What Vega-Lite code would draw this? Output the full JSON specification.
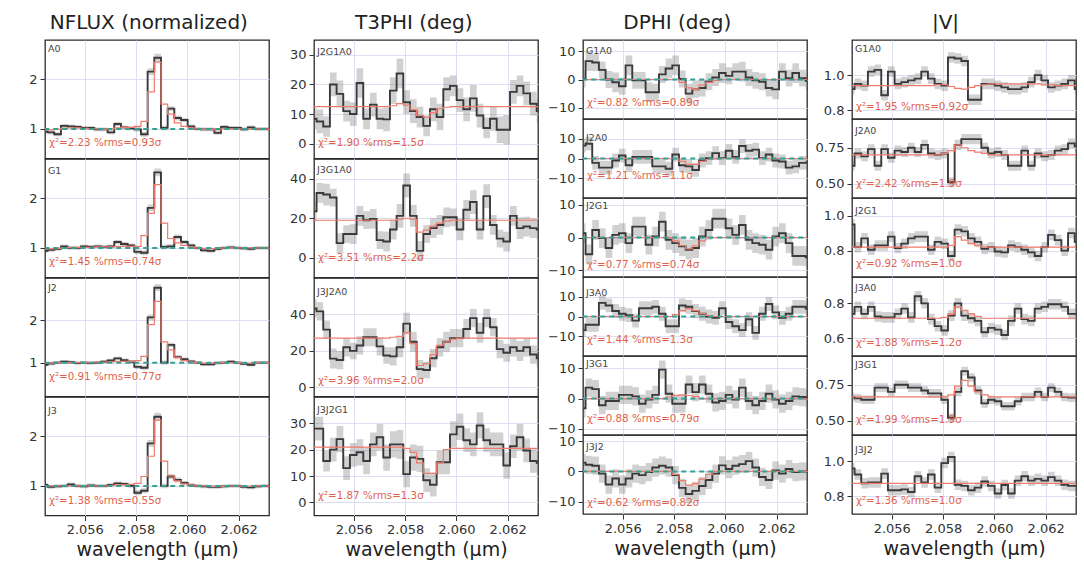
{
"padding":{"left":28,"top":13,"right":5,"bottom":5},
"background":"white",
"config":{
"font":"DejaVu Sans",
"view":{"stroke":"#2b2b2b","strokeWidth":1.3},
"axis":{"grid":true,"gridColor":"#d8dcee","gridWidth":0.9,"domain":false,"labelOverlap":false,"labelFont":"DejaVu Sans","labelFontSize":13,"labelColor":"#333","tickColor":"#333","tickSize":5,"labelPadding":3,"titleFont":"DejaVu Sans","titleFontSize":19,"titleFontWeight":"normal","titleColor":"#222"},
"axisY":{"labelOverlap":false,"tickCount":10},
"axisX":{"tickCount":5,"format":".3f","titlePadding":4},
"title":{"font":"DejaVu Sans","fontSize":20,"fontWeight":"normal","color":"#222","offset":6,"anchor":"middle"},
"line":{"interpolate":"step","color":"#3a3a3a","strokeWidth":1.9},
"text":{"font":"DejaVu Sans","fontSize":9.5}
},
"datasets":{
"N1":[{"l":2.05442,"v":0.95,"e":0.04,"m":0.98},{"l":2.05468,"v":0.93,"e":0.04,"m":0.98},{"l":2.05494,"v":0.89,"e":0.04,"m":0.99},{"l":2.0552,"v":1.06,"e":0.04,"m":1.01},{"l":2.05546,"v":1.05,"e":0.04,"m":1.02},{"l":2.05572,"v":1.04,"e":0.04,"m":1.02},{"l":2.05598,"v":1.02,"e":0.04,"m":1.01},{"l":2.05624,"v":1.02,"e":0.04,"m":1.0},{"l":2.0565,"v":0.99,"e":0.04,"m":1.0},{"l":2.05676,"v":0.99,"e":0.04,"m":0.99},{"l":2.05702,"v":0.93,"e":0.04,"m":1.0},{"l":2.05728,"v":1.1,"e":0.04,"m":1.02},{"l":2.05754,"v":1.03,"e":0.04,"m":1.03},{"l":2.0578,"v":1.01,"e":0.04,"m":1.03},{"l":2.05806,"v":0.99,"e":0.05,"m":1.05},{"l":2.05832,"v":0.89,"e":0.05,"m":1.15},{"l":2.05858,"v":2.16,"e":0.07,"m":1.75},{"l":2.05884,"v":2.44,"e":0.08,"m":2.35},{"l":2.0591,"v":1.02,"e":0.05,"m":1.5},{"l":2.05936,"v":1.41,"e":0.05,"m":1.3},{"l":2.05962,"v":1.22,"e":0.05,"m":1.12},{"l":2.05988,"v":1.18,"e":0.04,"m":1.05},{"l":2.06014,"v":1.05,"e":0.04,"m":1.02},{"l":2.0604,"v":1.0,"e":0.04,"m":1.0},{"l":2.06066,"v":0.99,"e":0.04,"m":0.99},{"l":2.06092,"v":0.99,"e":0.04,"m":0.99},{"l":2.06118,"v":0.92,"e":0.04,"m":0.98},{"l":2.06144,"v":1.04,"e":0.04,"m":1.0},{"l":2.0617,"v":1.02,"e":0.04,"m":1.0},{"l":2.06196,"v":1.02,"e":0.04,"m":1.0},{"l":2.06222,"v":0.99,"e":0.04,"m":1.0},{"l":2.06248,"v":1.03,"e":0.04,"m":1.0},{"l":2.06274,"v":1.0,"e":0.04,"m":1.0},{"l":2.063,"v":1.0,"e":0.04,"m":1.0},{"l":2.06326,"v":1.0,"e":0.04,"m":1.0}],
"N2":[{"l":2.05442,"v":0.94,"e":0.04,"m":0.98},{"l":2.05468,"v":0.96,"e":0.04,"m":0.98},{"l":2.05494,"v":0.98,"e":0.04,"m":0.99},{"l":2.0552,"v":1.03,"e":0.04,"m":1.0},{"l":2.05546,"v":1.0,"e":0.04,"m":1.01},{"l":2.05572,"v":1.0,"e":0.04,"m":1.01},{"l":2.05598,"v":1.03,"e":0.04,"m":1.01},{"l":2.05624,"v":1.02,"e":0.04,"m":1.01},{"l":2.0565,"v":1.03,"e":0.04,"m":1.02},{"l":2.05676,"v":1.02,"e":0.04,"m":1.02},{"l":2.05702,"v":1.03,"e":0.04,"m":1.02},{"l":2.05728,"v":1.12,"e":0.04,"m":1.03},{"l":2.05754,"v":1.08,"e":0.04,"m":1.03},{"l":2.0578,"v":1.05,"e":0.04,"m":1.03},{"l":2.05806,"v":0.92,"e":0.05,"m":1.03},{"l":2.05832,"v":0.9,"e":0.05,"m":1.25},{"l":2.05858,"v":1.81,"e":0.07,"m":1.7},{"l":2.05884,"v":2.53,"e":0.08,"m":2.28},{"l":2.0591,"v":1.02,"e":0.05,"m":1.5},{"l":2.05936,"v":1.03,"e":0.05,"m":1.19},{"l":2.05962,"v":1.22,"e":0.05,"m":1.1},{"l":2.05988,"v":1.12,"e":0.04,"m":1.05},{"l":2.06014,"v":1.05,"e":0.04,"m":1.02},{"l":2.0604,"v":1.0,"e":0.04,"m":1.0},{"l":2.06066,"v":0.95,"e":0.04,"m":0.99},{"l":2.06092,"v":0.94,"e":0.04,"m":0.98},{"l":2.06118,"v":0.98,"e":0.04,"m":0.99},{"l":2.06144,"v":1.0,"e":0.04,"m":1.0},{"l":2.0617,"v":1.01,"e":0.04,"m":1.0},{"l":2.06196,"v":1.0,"e":0.04,"m":1.0},{"l":2.06222,"v":0.99,"e":0.04,"m":1.0},{"l":2.06248,"v":0.98,"e":0.04,"m":1.0},{"l":2.06274,"v":1.0,"e":0.04,"m":1.0},{"l":2.063,"v":1.0,"e":0.04,"m":1.0},{"l":2.06326,"v":1.0,"e":0.04,"m":1.0}],
"N3":[{"l":2.05442,"v":0.95,"e":0.04,"m":0.98},{"l":2.05468,"v":0.98,"e":0.04,"m":0.99},{"l":2.05494,"v":1.0,"e":0.04,"m":1.0},{"l":2.0552,"v":1.02,"e":0.04,"m":1.0},{"l":2.05546,"v":1.01,"e":0.04,"m":1.0},{"l":2.05572,"v":0.99,"e":0.04,"m":1.0},{"l":2.05598,"v":1.0,"e":0.04,"m":1.0},{"l":2.05624,"v":0.99,"e":0.04,"m":1.0},{"l":2.0565,"v":1.0,"e":0.04,"m":1.01},{"l":2.05676,"v":1.02,"e":0.04,"m":1.01},{"l":2.05702,"v":1.05,"e":0.04,"m":1.02},{"l":2.05728,"v":1.1,"e":0.04,"m":1.03},{"l":2.05754,"v":1.06,"e":0.04,"m":1.03},{"l":2.0578,"v":1.02,"e":0.04,"m":1.03},{"l":2.05806,"v":0.9,"e":0.05,"m":1.05},{"l":2.05832,"v":0.88,"e":0.05,"m":1.15},{"l":2.05858,"v":2.07,"e":0.07,"m":1.9},{"l":2.05884,"v":2.77,"e":0.08,"m":2.45},{"l":2.0591,"v":1.0,"e":0.05,"m":1.49},{"l":2.05936,"v":1.42,"e":0.05,"m":1.3},{"l":2.05962,"v":1.13,"e":0.05,"m":1.12},{"l":2.05988,"v":1.08,"e":0.04,"m":1.05},{"l":2.06014,"v":1.03,"e":0.04,"m":1.02},{"l":2.0604,"v":1.0,"e":0.04,"m":1.0},{"l":2.06066,"v":0.96,"e":0.04,"m":0.99},{"l":2.06092,"v":0.96,"e":0.04,"m":0.99},{"l":2.06118,"v":0.99,"e":0.04,"m":0.99},{"l":2.06144,"v":1.0,"e":0.04,"m":1.0},{"l":2.0617,"v":1.02,"e":0.04,"m":1.0},{"l":2.06196,"v":1.0,"e":0.04,"m":1.0},{"l":2.06222,"v":0.97,"e":0.04,"m":0.99},{"l":2.06248,"v":0.95,"e":0.04,"m":0.99},{"l":2.06274,"v":1.0,"e":0.04,"m":1.0},{"l":2.063,"v":1.0,"e":0.04,"m":1.0},{"l":2.06326,"v":1.0,"e":0.04,"m":1.0}],
"N4":[{"l":2.05442,"v":1.02,"e":0.04,"m":1.0},{"l":2.05468,"v":0.98,"e":0.04,"m":1.0},{"l":2.05494,"v":0.99,"e":0.04,"m":1.0},{"l":2.0552,"v":1.0,"e":0.04,"m":1.0},{"l":2.05546,"v":1.03,"e":0.04,"m":1.0},{"l":2.05572,"v":1.0,"e":0.04,"m":1.0},{"l":2.05598,"v":0.99,"e":0.04,"m":1.0},{"l":2.05624,"v":1.01,"e":0.04,"m":1.0},{"l":2.0565,"v":1.0,"e":0.04,"m":1.0},{"l":2.05676,"v":1.0,"e":0.04,"m":1.0},{"l":2.05702,"v":1.02,"e":0.04,"m":1.01},{"l":2.05728,"v":1.05,"e":0.04,"m":1.02},{"l":2.05754,"v":1.04,"e":0.04,"m":1.02},{"l":2.0578,"v":1.0,"e":0.04,"m":1.03},{"l":2.05806,"v":0.86,"e":0.05,"m":1.05},{"l":2.05832,"v":0.9,"e":0.05,"m":1.19},{"l":2.05858,"v":1.86,"e":0.07,"m":1.6},{"l":2.05884,"v":2.4,"e":0.08,"m":2.33},{"l":2.0591,"v":1.0,"e":0.05,"m":1.5},{"l":2.05936,"v":1.19,"e":0.05,"m":1.2},{"l":2.05962,"v":1.12,"e":0.05,"m":1.1},{"l":2.05988,"v":1.06,"e":0.04,"m":1.04},{"l":2.06014,"v":1.02,"e":0.04,"m":1.02},{"l":2.0604,"v":1.0,"e":0.04,"m":1.0},{"l":2.06066,"v":0.99,"e":0.04,"m":1.0},{"l":2.06092,"v":0.98,"e":0.04,"m":0.99},{"l":2.06118,"v":0.98,"e":0.04,"m":0.99},{"l":2.06144,"v":0.99,"e":0.04,"m":0.99},{"l":2.0617,"v":1.0,"e":0.04,"m":1.0},{"l":2.06196,"v":1.0,"e":0.04,"m":1.0},{"l":2.06222,"v":0.98,"e":0.04,"m":0.99},{"l":2.06248,"v":0.97,"e":0.04,"m":0.99},{"l":2.06274,"v":0.99,"e":0.04,"m":1.0},{"l":2.063,"v":1.0,"e":0.04,"m":1.0},{"l":2.06326,"v":1.0,"e":0.04,"m":1.0}],
"T1":[{"l":2.05442,"v":8.4,"e":3.5,"m":12.5},{"l":2.05468,"v":7.5,"e":4,"m":12.5},{"l":2.05494,"v":5.8,"e":3.5,"m":12.5},{"l":2.0552,"v":20,"e":4,"m":12.5},{"l":2.05546,"v":16.8,"e":4.5,"m":12.5},{"l":2.05572,"v":11,"e":3.5,"m":12.5},{"l":2.05598,"v":10,"e":4,"m":12.5},{"l":2.05624,"v":20.5,"e":5,"m":12.5},{"l":2.0565,"v":8.4,"e":3.5,"m":12.5},{"l":2.05676,"v":13.2,"e":4,"m":12.5},{"l":2.05702,"v":8.4,"e":3.5,"m":12.5},{"l":2.05728,"v":8.2,"e":4,"m":12.5},{"l":2.05754,"v":17.9,"e":4.5,"m":12.8},{"l":2.0578,"v":23.7,"e":5,"m":13.5},{"l":2.05806,"v":14,"e":4,"m":13},{"l":2.05832,"v":11,"e":4,"m":11.5},{"l":2.05858,"v":9,"e":3.5,"m":9.5},{"l":2.05884,"v":6,"e":3.5,"m":9},{"l":2.0591,"v":11.6,"e":4,"m":10.5},{"l":2.05936,"v":9,"e":4.5,"m":11.8},{"l":2.05962,"v":18.4,"e":4,"m":12.3},{"l":2.05988,"v":19.5,"e":3.5,"m":12.5},{"l":2.06014,"v":14.7,"e":4,"m":12.5},{"l":2.0604,"v":11.6,"e":4,"m":12.5},{"l":2.06066,"v":15.3,"e":4.5,"m":12.5},{"l":2.06092,"v":9.5,"e":4,"m":12.5},{"l":2.06118,"v":5.3,"e":3.5,"m":12.5},{"l":2.06144,"v":8.4,"e":4,"m":12.5},{"l":2.0617,"v":4.7,"e":4.5,"m":12.5},{"l":2.06196,"v":4.7,"e":5,"m":12.5},{"l":2.06222,"v":17.5,"e":4,"m":12.5},{"l":2.06248,"v":19.5,"e":3.5,"m":12.5},{"l":2.06274,"v":17,"e":4,"m":12.5},{"l":2.063,"v":13.5,"e":4,"m":12.5},{"l":2.06326,"v":11,"e":4,"m":12.5}],
"T2":[{"l":2.05442,"v":23.5,"e":5,"m":19},{"l":2.05468,"v":32.8,"e":5,"m":19},{"l":2.05494,"v":32,"e":5.5,"m":19},{"l":2.0552,"v":30.5,"e":4.5,"m":19},{"l":2.05546,"v":7.4,"e":5,"m":19},{"l":2.05572,"v":12,"e":4.5,"m":19},{"l":2.05598,"v":12,"e":5,"m":19},{"l":2.05624,"v":21.2,"e":5,"m":19},{"l":2.0565,"v":19,"e":4.5,"m":19},{"l":2.05676,"v":19.7,"e":5,"m":19},{"l":2.05702,"v":8.9,"e":4.5,"m":19},{"l":2.05728,"v":8.2,"e":5,"m":19},{"l":2.05754,"v":14.3,"e":5,"m":19},{"l":2.0578,"v":21.2,"e":6,"m":19.5},{"l":2.05806,"v":36.6,"e":6,"m":20},{"l":2.05832,"v":21.2,"e":5.5,"m":19.5},{"l":2.05858,"v":3.5,"e":5,"m":13},{"l":2.05884,"v":12,"e":4.5,"m":14},{"l":2.0591,"v":15,"e":5,"m":16},{"l":2.05936,"v":16.6,"e":5,"m":17.5},{"l":2.05962,"v":20.5,"e":5,"m":18.5},{"l":2.05988,"v":20.5,"e":4.5,"m":19},{"l":2.06014,"v":14.3,"e":5.5,"m":19},{"l":2.0604,"v":24.3,"e":5,"m":19},{"l":2.06066,"v":28.2,"e":6,"m":19},{"l":2.06092,"v":14.3,"e":5,"m":19},{"l":2.06118,"v":31.2,"e":6,"m":19},{"l":2.06144,"v":16.6,"e":5,"m":19},{"l":2.0617,"v":9.7,"e":4.5,"m":19},{"l":2.06196,"v":8.2,"e":5,"m":19},{"l":2.06222,"v":21.2,"e":5,"m":19},{"l":2.06248,"v":15,"e":5.5,"m":19},{"l":2.06274,"v":15.8,"e":5,"m":19},{"l":2.063,"v":15,"e":5,"m":19},{"l":2.06326,"v":14.3,"e":5,"m":19}],
"T3":[{"l":2.05442,"v":43.3,"e":5,"m":27},{"l":2.05468,"v":41.7,"e":5,"m":27},{"l":2.05494,"v":31.7,"e":5,"m":27},{"l":2.0552,"v":15.8,"e":5.5,"m":27},{"l":2.05546,"v":15,"e":5,"m":27},{"l":2.05572,"v":22,"e":5,"m":27},{"l":2.05598,"v":20,"e":4.5,"m":27},{"l":2.05624,"v":23,"e":5,"m":27},{"l":2.0565,"v":27.5,"e":5,"m":27},{"l":2.05676,"v":27.5,"e":5,"m":27},{"l":2.05702,"v":22.5,"e":5,"m":27},{"l":2.05728,"v":17.5,"e":4.5,"m":27},{"l":2.05754,"v":17,"e":5,"m":27.5},{"l":2.0578,"v":22,"e":5.5,"m":28},{"l":2.05806,"v":35,"e":6,"m":30},{"l":2.05832,"v":25,"e":5.5,"m":24},{"l":2.05858,"v":10,"e":5,"m":12},{"l":2.05884,"v":9.5,"e":4.5,"m":13},{"l":2.0591,"v":16,"e":5,"m":18},{"l":2.05936,"v":22,"e":5,"m":23},{"l":2.05962,"v":25,"e":5.5,"m":25},{"l":2.05988,"v":27,"e":5,"m":26.5},{"l":2.06014,"v":27,"e":5,"m":27},{"l":2.0604,"v":32,"e":5.5,"m":27},{"l":2.06066,"v":38,"e":5,"m":27},{"l":2.06092,"v":30,"e":5.5,"m":27},{"l":2.06118,"v":38,"e":5,"m":27},{"l":2.06144,"v":33,"e":5,"m":27},{"l":2.0617,"v":21,"e":5,"m":27},{"l":2.06196,"v":19,"e":5,"m":27},{"l":2.06222,"v":22,"e":5,"m":27},{"l":2.06248,"v":20,"e":5.5,"m":27},{"l":2.06274,"v":22,"e":5,"m":27},{"l":2.063,"v":18,"e":5,"m":27},{"l":2.06326,"v":16,"e":5,"m":27}],
"T4":[{"l":2.05442,"v":28,"e":4.5,"m":21},{"l":2.05468,"v":28,"e":4.5,"m":21},{"l":2.05494,"v":15.7,"e":4,"m":21},{"l":2.0552,"v":20,"e":4.5,"m":21},{"l":2.05546,"v":24,"e":5,"m":21},{"l":2.05572,"v":13,"e":4.5,"m":21},{"l":2.05598,"v":18,"e":4.5,"m":21},{"l":2.05624,"v":19,"e":5,"m":21},{"l":2.0565,"v":15.7,"e":5,"m":21},{"l":2.05676,"v":22,"e":4.5,"m":21},{"l":2.05702,"v":24.7,"e":5,"m":21},{"l":2.05728,"v":17,"e":5,"m":21},{"l":2.05754,"v":22,"e":5,"m":21},{"l":2.0578,"v":22,"e":5.5,"m":21},{"l":2.05806,"v":10.7,"e":5,"m":20.5},{"l":2.05832,"v":17,"e":5,"m":19},{"l":2.05858,"v":16.5,"e":5,"m":15},{"l":2.05884,"v":8.4,"e":4.5,"m":11},{"l":2.0591,"v":6.7,"e":4.5,"m":11},{"l":2.05936,"v":15.2,"e":4.5,"m":15},{"l":2.05962,"v":15.2,"e":4.5,"m":20},{"l":2.05988,"v":25.8,"e":5,"m":20.5},{"l":2.06014,"v":28.7,"e":5,"m":20.5},{"l":2.0604,"v":23.6,"e":4.5,"m":20.5},{"l":2.06066,"v":22,"e":4.5,"m":20.5},{"l":2.06092,"v":29.2,"e":5,"m":20.5},{"l":2.06118,"v":23.6,"e":4.5,"m":20.5},{"l":2.06144,"v":22,"e":4.5,"m":20.5},{"l":2.0617,"v":22,"e":4.5,"m":20.5},{"l":2.06196,"v":14,"e":5,"m":20.5},{"l":2.06222,"v":21.3,"e":4.5,"m":20.5},{"l":2.06248,"v":24.7,"e":5,"m":20.5},{"l":2.06274,"v":19.7,"e":4.5,"m":20.5},{"l":2.063,"v":15.7,"e":4.5,"m":20.5},{"l":2.06326,"v":15,"e":4.5,"m":20.5}],
"D1":[{"l":2.05442,"v":0.2,"e":3,"m":0},{"l":2.05468,"v":6.5,"e":3.5,"m":0},{"l":2.05494,"v":6,"e":3,"m":0},{"l":2.0552,"v":3.4,"e":3,"m":0},{"l":2.05546,"v":0,"e":3,"m":0},{"l":2.05572,"v":-1,"e":3.5,"m":0},{"l":2.05598,"v":-2.4,"e":3,"m":0},{"l":2.05624,"v":5,"e":3.5,"m":0},{"l":2.0565,"v":-0.3,"e":3,"m":0},{"l":2.05676,"v":-0.3,"e":3,"m":0},{"l":2.05702,"v":-4.5,"e":3.5,"m":0},{"l":2.05728,"v":-4.5,"e":3,"m":0},{"l":2.05754,"v":1.8,"e":3,"m":0},{"l":2.0578,"v":3.9,"e":3.5,"m":0},{"l":2.05806,"v":5,"e":3.5,"m":0},{"l":2.05832,"v":0.2,"e":3,"m":-1},{"l":2.05858,"v":-5,"e":3.5,"m":-3},{"l":2.05884,"v":-3.5,"e":3,"m":-3.5},{"l":2.0591,"v":-3,"e":3,"m":-2},{"l":2.05936,"v":-0.8,"e":3,"m":-1},{"l":2.05962,"v":0.7,"e":3,"m":-0.3},{"l":2.05988,"v":2.3,"e":3.5,"m":0},{"l":2.06014,"v":1.3,"e":3,"m":0},{"l":2.0604,"v":2.8,"e":3,"m":0},{"l":2.06066,"v":2.8,"e":3.5,"m":0},{"l":2.06092,"v":0.7,"e":3,"m":0},{"l":2.06118,"v":-0.3,"e":3,"m":0},{"l":2.06144,"v":-0.8,"e":3,"m":0},{"l":2.0617,"v":-3,"e":3,"m":0},{"l":2.06196,"v":-3.5,"e":3.5,"m":0},{"l":2.06222,"v":2.8,"e":3,"m":0},{"l":2.06248,"v":0.5,"e":3,"m":0},{"l":2.06274,"v":2.3,"e":3.5,"m":0},{"l":2.063,"v":0.5,"e":3,"m":0},{"l":2.06326,"v":-0.5,"e":3,"m":0}],
"D2":[{"l":2.05442,"v":6.5,"e":3.5,"m":0},{"l":2.05468,"v":7.5,"e":3.5,"m":0},{"l":2.05494,"v":-2.2,"e":3.5,"m":0},{"l":2.0552,"v":-4.6,"e":3.5,"m":0},{"l":2.05546,"v":-4.6,"e":3.5,"m":0},{"l":2.05572,"v":-1,"e":3.5,"m":0},{"l":2.05598,"v":1.5,"e":3.5,"m":0},{"l":2.05624,"v":-3.4,"e":3.5,"m":0},{"l":2.0565,"v":0.8,"e":3.5,"m":0},{"l":2.05676,"v":0.8,"e":3.5,"m":0},{"l":2.05702,"v":0.8,"e":3.5,"m":0},{"l":2.05728,"v":-4,"e":3.5,"m":0},{"l":2.05754,"v":-4,"e":3.5,"m":0},{"l":2.0578,"v":-5.2,"e":3.5,"m":0},{"l":2.05806,"v":2,"e":3.5,"m":0},{"l":2.05832,"v":-3.4,"e":3.5,"m":-1.5},{"l":2.05858,"v":-4,"e":3.5,"m":-3},{"l":2.05884,"v":-5.8,"e":3.5,"m":-3},{"l":2.0591,"v":-1,"e":3.5,"m":-1.5},{"l":2.05936,"v":0.2,"e":3.5,"m":-0.5},{"l":2.05962,"v":2.7,"e":3.5,"m":0},{"l":2.05988,"v":0.2,"e":3.5,"m":0},{"l":2.06014,"v":3.9,"e":3.5,"m":0},{"l":2.0604,"v":0.8,"e":3.5,"m":0},{"l":2.06066,"v":6.3,"e":3.5,"m":0},{"l":2.06092,"v":3.9,"e":3.5,"m":0},{"l":2.06118,"v":4.5,"e":3.5,"m":0},{"l":2.06144,"v":0.2,"e":3.5,"m":0},{"l":2.0617,"v":2,"e":3.5,"m":0},{"l":2.06196,"v":-1,"e":3.5,"m":0},{"l":2.06222,"v":-1.5,"e":3.5,"m":0},{"l":2.06248,"v":-4.6,"e":3.5,"m":0},{"l":2.06274,"v":-4,"e":3.5,"m":0},{"l":2.063,"v":-2.2,"e":3.5,"m":0},{"l":2.06326,"v":-2,"e":3.5,"m":0}],
"D3":[{"l":2.05442,"v":1.3,"e":3,"m":0},{"l":2.05468,"v":-5.1,"e":3,"m":0},{"l":2.05494,"v":2.3,"e":3,"m":0},{"l":2.0552,"v":-0.2,"e":3,"m":0},{"l":2.05546,"v":-3.2,"e":3,"m":0},{"l":2.05572,"v":0.8,"e":3,"m":0},{"l":2.05598,"v":1.3,"e":3,"m":0},{"l":2.05624,"v":-1.7,"e":3,"m":0},{"l":2.0565,"v":3.3,"e":3,"m":0},{"l":2.05676,"v":3.3,"e":3,"m":0},{"l":2.05702,"v":-2.2,"e":3,"m":0},{"l":2.05728,"v":0.3,"e":3,"m":0},{"l":2.05754,"v":4.8,"e":3,"m":0},{"l":2.0578,"v":-0.7,"e":3,"m":0},{"l":2.05806,"v":-1.7,"e":3,"m":-1},{"l":2.05832,"v":-2.7,"e":3,"m":-2.5},{"l":2.05858,"v":-3.7,"e":3,"m":-3.5},{"l":2.05884,"v":-3.2,"e":3,"m":-2.5},{"l":2.0591,"v":0.3,"e":3,"m":-1},{"l":2.05936,"v":2.3,"e":3,"m":0},{"l":2.05962,"v":5.7,"e":3,"m":0},{"l":2.05988,"v":5.7,"e":3,"m":0},{"l":2.06014,"v":2.8,"e":3,"m":0},{"l":2.0604,"v":0.8,"e":3,"m":0},{"l":2.06066,"v":3.8,"e":3,"m":0},{"l":2.06092,"v":-0.7,"e":3,"m":0},{"l":2.06118,"v":-1.7,"e":3,"m":0},{"l":2.06144,"v":-2.2,"e":3,"m":0},{"l":2.0617,"v":-3.7,"e":3,"m":0},{"l":2.06196,"v":0.3,"e":3,"m":0},{"l":2.06222,"v":1.3,"e":3,"m":0},{"l":2.06248,"v":-1.7,"e":3,"m":0},{"l":2.06274,"v":-5.6,"e":3,"m":0},{"l":2.063,"v":-5.6,"e":3,"m":0},{"l":2.06326,"v":-6,"e":3,"m":0}],
"D4":[{"l":2.05442,"v":-6.9,"e":3.5,"m":0},{"l":2.05468,"v":-4.2,"e":3.5,"m":0},{"l":2.05494,"v":-4.2,"e":3.5,"m":0},{"l":2.0552,"v":6.9,"e":3.5,"m":0},{"l":2.05546,"v":5.6,"e":3.5,"m":0},{"l":2.05572,"v":2.8,"e":3.5,"m":0},{"l":2.05598,"v":1.4,"e":3.5,"m":0},{"l":2.05624,"v":0.7,"e":3.5,"m":0},{"l":2.0565,"v":-2.1,"e":3.5,"m":0},{"l":2.05676,"v":4.2,"e":3.5,"m":0},{"l":2.05702,"v":4.2,"e":3.5,"m":0},{"l":2.05728,"v":4.9,"e":3.5,"m":0},{"l":2.05754,"v":1.4,"e":3.5,"m":0},{"l":2.0578,"v":-4.9,"e":3.5,"m":0},{"l":2.05806,"v":-4.9,"e":3.5,"m":1},{"l":2.05832,"v":5.6,"e":3.5,"m":3},{"l":2.05858,"v":4.9,"e":3.5,"m":4},{"l":2.05884,"v":2.8,"e":3.5,"m":3},{"l":2.0591,"v":1.4,"e":3.5,"m":1.5},{"l":2.05936,"v":0,"e":3.5,"m":0.5},{"l":2.05962,"v":-0.7,"e":3.5,"m":0},{"l":2.05988,"v":4.2,"e":3.5,"m":0},{"l":2.06014,"v":-2.8,"e":3.5,"m":0},{"l":2.0604,"v":-4.9,"e":3.5,"m":0},{"l":2.06066,"v":-6.9,"e":3.5,"m":0},{"l":2.06092,"v":-1.4,"e":3.5,"m":0},{"l":2.06118,"v":-8.3,"e":3.5,"m":0},{"l":2.06144,"v":1.4,"e":3.5,"m":0},{"l":2.0617,"v":6.3,"e":3.5,"m":0},{"l":2.06196,"v":2.1,"e":3.5,"m":0},{"l":2.06222,"v":-0.7,"e":3.5,"m":0},{"l":2.06248,"v":1.4,"e":3.5,"m":0},{"l":2.06274,"v":4.9,"e":3.5,"m":0},{"l":2.063,"v":4.9,"e":3.5,"m":0},{"l":2.06326,"v":4,"e":3.5,"m":0}],
"D5":[{"l":2.05442,"v":-3.2,"e":3,"m":0},{"l":2.05468,"v":3.6,"e":3,"m":0},{"l":2.05494,"v":3.1,"e":3,"m":0},{"l":2.0552,"v":-2.2,"e":3,"m":0},{"l":2.05546,"v":-0.8,"e":3,"m":0},{"l":2.05572,"v":-0.8,"e":3,"m":0},{"l":2.05598,"v":1.2,"e":3,"m":0},{"l":2.05624,"v":1.2,"e":3,"m":0},{"l":2.0565,"v":0.7,"e":3,"m":0},{"l":2.05676,"v":-1.7,"e":3,"m":0},{"l":2.05702,"v":-0.3,"e":3,"m":0},{"l":2.05728,"v":1.2,"e":3,"m":0},{"l":2.05754,"v":9.5,"e":3,"m":0},{"l":2.0578,"v":1.6,"e":3,"m":0.5},{"l":2.05806,"v":-1.7,"e":3,"m":1},{"l":2.05832,"v":-1.7,"e":3,"m":1.2},{"l":2.05858,"v":4.6,"e":3,"m":1},{"l":2.05884,"v":2.1,"e":3,"m":0.6},{"l":2.0591,"v":4.6,"e":3,"m":0},{"l":2.05936,"v":1.6,"e":3,"m":0},{"l":2.05962,"v":-1.3,"e":3,"m":0},{"l":2.05988,"v":-0.8,"e":3,"m":0},{"l":2.06014,"v":1.2,"e":3,"m":0},{"l":2.0604,"v":-0.3,"e":3,"m":0},{"l":2.06066,"v":3.6,"e":3,"m":0},{"l":2.06092,"v":-0.8,"e":3,"m":0},{"l":2.06118,"v":-2.2,"e":3,"m":0},{"l":2.06144,"v":-0.8,"e":3,"m":0},{"l":2.0617,"v":1.6,"e":3,"m":0},{"l":2.06196,"v":-0.3,"e":3,"m":0},{"l":2.06222,"v":-1.7,"e":3,"m":0},{"l":2.06248,"v":-0.8,"e":3,"m":0},{"l":2.06274,"v":0.7,"e":3,"m":0},{"l":2.063,"v":0.5,"e":3,"m":0},{"l":2.06326,"v":0,"e":3,"m":0}],
"D6":[{"l":2.05442,"v":2.9,"e":3,"m":0},{"l":2.05468,"v":2.2,"e":3,"m":0},{"l":2.05494,"v":1.9,"e":3,"m":0},{"l":2.0552,"v":-0.7,"e":3,"m":0},{"l":2.05546,"v":-4.3,"e":3,"m":0},{"l":2.05572,"v":-2.3,"e":3,"m":0},{"l":2.05598,"v":-4.3,"e":3,"m":0},{"l":2.05624,"v":-2.3,"e":3,"m":0},{"l":2.0565,"v":-0.7,"e":3,"m":0},{"l":2.05676,"v":-1.2,"e":3,"m":0},{"l":2.05702,"v":-0.2,"e":3,"m":0},{"l":2.05728,"v":1.3,"e":3,"m":0},{"l":2.05754,"v":1.9,"e":3,"m":0},{"l":2.0578,"v":1.3,"e":3,"m":0},{"l":2.05806,"v":-1.2,"e":3,"m":-1},{"l":2.05832,"v":-5.4,"e":3,"m":-3},{"l":2.05858,"v":-7.4,"e":3,"m":-4.5},{"l":2.05884,"v":-6.4,"e":3,"m":-4},{"l":2.0591,"v":-4.8,"e":3,"m":-2.5},{"l":2.05936,"v":-2.8,"e":3,"m":-1},{"l":2.05962,"v":-0.7,"e":3,"m":0},{"l":2.05988,"v":2,"e":3,"m":0},{"l":2.06014,"v":0.8,"e":3,"m":0},{"l":2.0604,"v":1.9,"e":3,"m":0},{"l":2.06066,"v":2.4,"e":3,"m":0},{"l":2.06092,"v":3.4,"e":3,"m":0},{"l":2.06118,"v":1.3,"e":3,"m":0},{"l":2.06144,"v":-1.8,"e":3,"m":0},{"l":2.0617,"v":-2.8,"e":3,"m":0},{"l":2.06196,"v":0.3,"e":3,"m":0},{"l":2.06222,"v":-0.7,"e":3,"m":0},{"l":2.06248,"v":0.8,"e":3,"m":0},{"l":2.06274,"v":-0.2,"e":3,"m":0},{"l":2.063,"v":0,"e":3,"m":0},{"l":2.06326,"v":0,"e":3,"m":0}],
"V1":[{"l":2.05442,"v":0.92,"e":0.03,"m":0.94},{"l":2.05468,"v":0.95,"e":0.03,"m":0.94},{"l":2.05494,"v":0.94,"e":0.03,"m":0.94},{"l":2.0552,"v":1.02,"e":0.03,"m":0.94},{"l":2.05546,"v":1.03,"e":0.03,"m":0.94},{"l":2.05572,"v":0.885,"e":0.03,"m":0.94},{"l":2.05598,"v":1.02,"e":0.03,"m":0.94},{"l":2.05624,"v":0.95,"e":0.03,"m":0.94},{"l":2.0565,"v":0.96,"e":0.03,"m":0.94},{"l":2.05676,"v":0.97,"e":0.03,"m":0.94},{"l":2.05702,"v":0.98,"e":0.03,"m":0.94},{"l":2.05728,"v":1.02,"e":0.03,"m":0.94},{"l":2.05754,"v":0.98,"e":0.03,"m":0.94},{"l":2.0578,"v":0.95,"e":0.03,"m":0.945},{"l":2.05806,"v":0.94,"e":0.03,"m":0.945},{"l":2.05832,"v":1.1,"e":0.03,"m":0.935},{"l":2.05858,"v":1.095,"e":0.03,"m":0.925},{"l":2.05884,"v":1.08,"e":0.03,"m":0.92},{"l":2.0591,"v":0.86,"e":0.03,"m":0.93},{"l":2.05936,"v":0.86,"e":0.03,"m":0.94},{"l":2.05962,"v":0.95,"e":0.03,"m":0.945},{"l":2.05988,"v":0.95,"e":0.03,"m":0.95},{"l":2.06014,"v":0.94,"e":0.03,"m":0.95},{"l":2.0604,"v":0.93,"e":0.03,"m":0.95},{"l":2.06066,"v":0.92,"e":0.03,"m":0.95},{"l":2.06092,"v":0.92,"e":0.03,"m":0.95},{"l":2.06118,"v":0.93,"e":0.03,"m":0.95},{"l":2.06144,"v":0.96,"e":0.03,"m":0.95},{"l":2.0617,"v":1.0,"e":0.03,"m":0.95},{"l":2.06196,"v":0.97,"e":0.03,"m":0.945},{"l":2.06222,"v":0.93,"e":0.03,"m":0.945},{"l":2.06248,"v":0.94,"e":0.03,"m":0.94},{"l":2.06274,"v":0.95,"e":0.03,"m":0.94},{"l":2.063,"v":0.97,"e":0.03,"m":0.94},{"l":2.06326,"v":0.92,"e":0.03,"m":0.94}],
"V2":[{"l":2.05442,"v":0.625,"e":0.035,"m":0.7},{"l":2.05468,"v":0.71,"e":0.035,"m":0.7},{"l":2.05494,"v":0.69,"e":0.035,"m":0.7},{"l":2.0552,"v":0.74,"e":0.035,"m":0.7},{"l":2.05546,"v":0.625,"e":0.035,"m":0.7},{"l":2.05572,"v":0.74,"e":0.035,"m":0.7},{"l":2.05598,"v":0.68,"e":0.035,"m":0.7},{"l":2.05624,"v":0.73,"e":0.035,"m":0.7},{"l":2.0565,"v":0.72,"e":0.035,"m":0.7},{"l":2.05676,"v":0.75,"e":0.035,"m":0.7},{"l":2.05702,"v":0.72,"e":0.035,"m":0.7},{"l":2.05728,"v":0.77,"e":0.035,"m":0.7},{"l":2.05754,"v":0.71,"e":0.035,"m":0.7},{"l":2.0578,"v":0.7,"e":0.035,"m":0.7},{"l":2.05806,"v":0.71,"e":0.035,"m":0.71},{"l":2.05832,"v":0.51,"e":0.035,"m":0.73},{"l":2.05858,"v":0.77,"e":0.035,"m":0.77},{"l":2.05884,"v":0.81,"e":0.035,"m":0.75},{"l":2.0591,"v":0.81,"e":0.035,"m":0.73},{"l":2.05936,"v":0.81,"e":0.035,"m":0.72},{"l":2.05962,"v":0.75,"e":0.035,"m":0.71},{"l":2.05988,"v":0.71,"e":0.035,"m":0.7},{"l":2.06014,"v":0.72,"e":0.035,"m":0.7},{"l":2.0604,"v":0.7,"e":0.035,"m":0.7},{"l":2.06066,"v":0.625,"e":0.035,"m":0.7},{"l":2.06092,"v":0.625,"e":0.035,"m":0.7},{"l":2.06118,"v":0.73,"e":0.035,"m":0.7},{"l":2.06144,"v":0.625,"e":0.035,"m":0.7},{"l":2.0617,"v":0.71,"e":0.035,"m":0.7},{"l":2.06196,"v":0.69,"e":0.035,"m":0.7},{"l":2.06222,"v":0.7,"e":0.035,"m":0.7},{"l":2.06248,"v":0.73,"e":0.035,"m":0.7},{"l":2.06274,"v":0.74,"e":0.035,"m":0.7},{"l":2.063,"v":0.78,"e":0.035,"m":0.7},{"l":2.06326,"v":0.76,"e":0.035,"m":0.7}],
"V3":[{"l":2.05442,"v":0.95,"e":0.03,"m":0.82},{"l":2.05468,"v":0.82,"e":0.03,"m":0.82},{"l":2.05494,"v":0.87,"e":0.03,"m":0.82},{"l":2.0552,"v":0.805,"e":0.03,"m":0.82},{"l":2.05546,"v":0.83,"e":0.03,"m":0.82},{"l":2.05572,"v":0.83,"e":0.03,"m":0.82},{"l":2.05598,"v":0.88,"e":0.03,"m":0.82},{"l":2.05624,"v":0.815,"e":0.03,"m":0.82},{"l":2.0565,"v":0.84,"e":0.03,"m":0.82},{"l":2.05676,"v":0.87,"e":0.03,"m":0.82},{"l":2.05702,"v":0.88,"e":0.03,"m":0.82},{"l":2.05728,"v":0.88,"e":0.03,"m":0.82},{"l":2.05754,"v":0.805,"e":0.03,"m":0.82},{"l":2.0578,"v":0.85,"e":0.03,"m":0.82},{"l":2.05806,"v":0.84,"e":0.03,"m":0.82},{"l":2.05832,"v":0.77,"e":0.03,"m":0.83},{"l":2.05858,"v":0.92,"e":0.03,"m":0.88},{"l":2.05884,"v":0.91,"e":0.03,"m":0.86},{"l":2.0591,"v":0.87,"e":0.03,"m":0.84},{"l":2.05936,"v":0.85,"e":0.03,"m":0.83},{"l":2.05962,"v":0.81,"e":0.03,"m":0.82},{"l":2.05988,"v":0.82,"e":0.03,"m":0.82},{"l":2.06014,"v":0.795,"e":0.03,"m":0.82},{"l":2.0604,"v":0.79,"e":0.03,"m":0.82},{"l":2.06066,"v":0.83,"e":0.03,"m":0.82},{"l":2.06092,"v":0.82,"e":0.03,"m":0.82},{"l":2.06118,"v":0.805,"e":0.03,"m":0.82},{"l":2.06144,"v":0.79,"e":0.03,"m":0.82},{"l":2.0617,"v":0.77,"e":0.03,"m":0.82},{"l":2.06196,"v":0.82,"e":0.03,"m":0.82},{"l":2.06222,"v":0.89,"e":0.03,"m":0.82},{"l":2.06248,"v":0.86,"e":0.03,"m":0.82},{"l":2.06274,"v":0.8,"e":0.03,"m":0.82},{"l":2.063,"v":0.9,"e":0.03,"m":0.82},{"l":2.06326,"v":0.85,"e":0.03,"m":0.82}],
"V4":[{"l":2.05442,"v":0.74,"e":0.03,"m":0.715},{"l":2.05468,"v":0.78,"e":0.03,"m":0.715},{"l":2.05494,"v":0.74,"e":0.03,"m":0.715},{"l":2.0552,"v":0.78,"e":0.03,"m":0.715},{"l":2.05546,"v":0.725,"e":0.03,"m":0.715},{"l":2.05572,"v":0.72,"e":0.03,"m":0.715},{"l":2.05598,"v":0.72,"e":0.03,"m":0.715},{"l":2.05624,"v":0.74,"e":0.03,"m":0.715},{"l":2.0565,"v":0.77,"e":0.03,"m":0.715},{"l":2.05676,"v":0.72,"e":0.03,"m":0.715},{"l":2.05702,"v":0.84,"e":0.03,"m":0.715},{"l":2.05728,"v":0.8,"e":0.03,"m":0.715},{"l":2.05754,"v":0.71,"e":0.03,"m":0.715},{"l":2.0578,"v":0.67,"e":0.03,"m":0.715},{"l":2.05806,"v":0.645,"e":0.03,"m":0.72},{"l":2.05832,"v":0.73,"e":0.03,"m":0.74},{"l":2.05858,"v":0.8,"e":0.03,"m":0.78},{"l":2.05884,"v":0.73,"e":0.03,"m":0.76},{"l":2.0591,"v":0.715,"e":0.03,"m":0.74},{"l":2.05936,"v":0.7,"e":0.03,"m":0.725},{"l":2.05962,"v":0.635,"e":0.03,"m":0.715},{"l":2.05988,"v":0.66,"e":0.03,"m":0.715},{"l":2.06014,"v":0.65,"e":0.03,"m":0.715},{"l":2.0604,"v":0.62,"e":0.03,"m":0.715},{"l":2.06066,"v":0.7,"e":0.03,"m":0.715},{"l":2.06092,"v":0.77,"e":0.03,"m":0.715},{"l":2.06118,"v":0.71,"e":0.03,"m":0.715},{"l":2.06144,"v":0.7,"e":0.03,"m":0.715},{"l":2.0617,"v":0.77,"e":0.03,"m":0.715},{"l":2.06196,"v":0.78,"e":0.03,"m":0.715},{"l":2.06222,"v":0.795,"e":0.03,"m":0.715},{"l":2.06248,"v":0.795,"e":0.03,"m":0.715},{"l":2.06274,"v":0.78,"e":0.03,"m":0.715},{"l":2.063,"v":0.74,"e":0.03,"m":0.715},{"l":2.06326,"v":0.74,"e":0.03,"m":0.715}],
"V5":[{"l":2.05442,"v":0.665,"e":0.03,"m":0.665},{"l":2.05468,"v":0.655,"e":0.03,"m":0.665},{"l":2.05494,"v":0.645,"e":0.03,"m":0.665},{"l":2.0552,"v":0.645,"e":0.03,"m":0.665},{"l":2.05546,"v":0.73,"e":0.03,"m":0.665},{"l":2.05572,"v":0.73,"e":0.03,"m":0.665},{"l":2.05598,"v":0.7,"e":0.03,"m":0.665},{"l":2.05624,"v":0.75,"e":0.03,"m":0.665},{"l":2.0565,"v":0.75,"e":0.03,"m":0.665},{"l":2.05676,"v":0.73,"e":0.03,"m":0.665},{"l":2.05702,"v":0.73,"e":0.03,"m":0.665},{"l":2.05728,"v":0.71,"e":0.03,"m":0.665},{"l":2.05754,"v":0.69,"e":0.03,"m":0.665},{"l":2.0578,"v":0.69,"e":0.03,"m":0.665},{"l":2.05806,"v":0.645,"e":0.03,"m":0.665},{"l":2.05832,"v":0.52,"e":0.03,"m":0.68},{"l":2.05858,"v":0.7,"e":0.03,"m":0.74},{"l":2.05884,"v":0.845,"e":0.03,"m":0.78},{"l":2.0591,"v":0.8,"e":0.03,"m":0.74},{"l":2.05936,"v":0.71,"e":0.03,"m":0.7},{"l":2.05962,"v":0.62,"e":0.03,"m":0.68},{"l":2.05988,"v":0.645,"e":0.03,"m":0.665},{"l":2.06014,"v":0.635,"e":0.03,"m":0.665},{"l":2.0604,"v":0.6,"e":0.03,"m":0.665},{"l":2.06066,"v":0.6,"e":0.03,"m":0.665},{"l":2.06092,"v":0.635,"e":0.03,"m":0.665},{"l":2.06118,"v":0.665,"e":0.03,"m":0.665},{"l":2.06144,"v":0.665,"e":0.03,"m":0.665},{"l":2.0617,"v":0.7,"e":0.03,"m":0.665},{"l":2.06196,"v":0.665,"e":0.03,"m":0.665},{"l":2.06222,"v":0.73,"e":0.03,"m":0.665},{"l":2.06248,"v":0.7,"e":0.03,"m":0.665},{"l":2.06274,"v":0.665,"e":0.03,"m":0.665},{"l":2.063,"v":0.66,"e":0.03,"m":0.665},{"l":2.06326,"v":0.66,"e":0.03,"m":0.665}],
"V6":[{"l":2.05442,"v":0.96,"e":0.03,"m":0.875},{"l":2.05468,"v":0.925,"e":0.03,"m":0.875},{"l":2.05494,"v":0.875,"e":0.03,"m":0.875},{"l":2.0552,"v":0.88,"e":0.03,"m":0.875},{"l":2.05546,"v":0.88,"e":0.03,"m":0.875},{"l":2.05572,"v":0.93,"e":0.03,"m":0.875},{"l":2.05598,"v":0.835,"e":0.03,"m":0.875},{"l":2.05624,"v":0.835,"e":0.03,"m":0.875},{"l":2.0565,"v":0.84,"e":0.03,"m":0.875},{"l":2.05676,"v":0.825,"e":0.03,"m":0.875},{"l":2.05702,"v":0.915,"e":0.03,"m":0.875},{"l":2.05728,"v":0.88,"e":0.03,"m":0.875},{"l":2.05754,"v":0.925,"e":0.03,"m":0.875},{"l":2.0578,"v":0.85,"e":0.03,"m":0.875},{"l":2.05806,"v":0.99,"e":0.03,"m":0.875},{"l":2.05832,"v":1.025,"e":0.03,"m":0.875},{"l":2.05858,"v":0.867,"e":0.03,"m":0.875},{"l":2.05884,"v":0.86,"e":0.03,"m":0.875},{"l":2.0591,"v":0.835,"e":0.03,"m":0.875},{"l":2.05936,"v":0.85,"e":0.03,"m":0.875},{"l":2.05962,"v":0.885,"e":0.03,"m":0.875},{"l":2.05988,"v":0.86,"e":0.03,"m":0.875},{"l":2.06014,"v":0.817,"e":0.03,"m":0.875},{"l":2.0604,"v":0.865,"e":0.03,"m":0.875},{"l":2.06066,"v":0.817,"e":0.03,"m":0.875},{"l":2.06092,"v":0.89,"e":0.03,"m":0.875},{"l":2.06118,"v":0.915,"e":0.03,"m":0.875},{"l":2.06144,"v":0.89,"e":0.03,"m":0.875},{"l":2.0617,"v":0.9,"e":0.03,"m":0.875},{"l":2.06196,"v":0.89,"e":0.03,"m":0.875},{"l":2.06222,"v":0.91,"e":0.03,"m":0.875},{"l":2.06248,"v":0.89,"e":0.03,"m":0.875},{"l":2.06274,"v":0.867,"e":0.03,"m":0.875},{"l":2.063,"v":0.86,"e":0.03,"m":0.875},{"l":2.06326,"v":0.86,"e":0.03,"m":0.875}]
},
"spacing":269,
"bounds":"flush",
"resolve":{"scale":{"x":"independent","y":"independent"}},
"hconcat":[
{"title":"NFLUX (normalized)","spacing":0,"bounds":"flush","resolve":{"scale":{"x":"independent","y":"independent"}},"vconcat":[
{"data":{"name":"N1"},"width":224,"height":118.5,"encoding":{"x":{"field":"l","type":"quantitative","scale":{"domain":[2.05445,2.06318]},"axis":{"labels":false,"ticks":false,"title":null}}},"layer":[
{"mark":{"type":"errorband","interpolate":"step","clip":true,"color":"#666"},"encoding":{"y":{"field":"v","type":"quantitative","scale":{"domain":[0.47,2.76]},"axis":{"values":[1,2],"format":".0f","tickCount":10},"title":null},"yError":{"field":"e"}}},
{"mark":{"type":"line","clip":true},"encoding":{"y":{"field":"v","type":"quantitative","title":null}}},
{"mark":{"type":"line","clip":true,"color":"#f07a6c","strokeWidth":1.2},"encoding":{"y":{"field":"m","type":"quantitative","title":null}}},
{"mark":{"type":"line","clip":true,"interpolate":"linear","color":"#36a093","strokeWidth":2,"strokeDash":[5,4]},"encoding":{"y":{"datum":1}}},
{"transform":[{"filter":"datum.l<2.0545"}],"mark":{"type":"text","align":"left","baseline":"top","dx":3,"dy":2,"color":"#444"},"encoding":{"x":{"datum":2.05445},"y":{"datum":2.76},"text":{"value":"A0"}}},
{"transform":[{"filter":"datum.l<2.0545"}],"mark":{"type":"text","align":"left","baseline":"bottom","dx":4,"dy":-7,"color":"#e2604e","fontSize":10.3},"encoding":{"x":{"datum":2.05445},"y":{"datum":0.47},"text":{"value":"χ²=2.23 %rms=0.93σ"}}}]},
{"data":{"name":"N2"},"width":224,"height":118.5,"encoding":{"x":{"field":"l","type":"quantitative","scale":{"domain":[2.05445,2.06318]},"axis":{"labels":false,"ticks":false,"title":null}}},"layer":[
{"mark":{"type":"errorband","interpolate":"step","clip":true,"color":"#666"},"encoding":{"y":{"field":"v","type":"quantitative","scale":{"domain":[0.47,2.69]},"axis":{"values":[1,2],"format":".0f","tickCount":10},"title":null},"yError":{"field":"e"}}},
{"mark":{"type":"line","clip":true},"encoding":{"y":{"field":"v","type":"quantitative","title":null}}},
{"mark":{"type":"line","clip":true,"color":"#f07a6c","strokeWidth":1.2},"encoding":{"y":{"field":"m","type":"quantitative","title":null}}},
{"mark":{"type":"line","clip":true,"interpolate":"linear","color":"#36a093","strokeWidth":2,"strokeDash":[5,4]},"encoding":{"y":{"datum":1}}},
{"transform":[{"filter":"datum.l<2.0545"}],"mark":{"type":"text","align":"left","baseline":"top","dx":3,"dy":2,"color":"#444"},"encoding":{"x":{"datum":2.05445},"y":{"datum":2.69},"text":{"value":"G1"}}},
{"transform":[{"filter":"datum.l<2.0545"}],"mark":{"type":"text","align":"left","baseline":"bottom","dx":4,"dy":-7,"color":"#e2604e","fontSize":10.3},"encoding":{"x":{"datum":2.05445},"y":{"datum":0.47},"text":{"value":"χ²=1.45 %rms=0.74σ"}}}]},
{"data":{"name":"N3"},"width":224,"height":118.5,"encoding":{"x":{"field":"l","type":"quantitative","scale":{"domain":[2.05445,2.06318]},"axis":{"labels":false,"ticks":false,"title":null}}},"layer":[
{"mark":{"type":"errorband","interpolate":"step","clip":true,"color":"#666"},"encoding":{"y":{"field":"v","type":"quantitative","scale":{"domain":[0.38,2.93]},"axis":{"values":[1,2],"format":".0f","tickCount":10},"title":null},"yError":{"field":"e"}}},
{"mark":{"type":"line","clip":true},"encoding":{"y":{"field":"v","type":"quantitative","title":null}}},
{"mark":{"type":"line","clip":true,"color":"#f07a6c","strokeWidth":1.2},"encoding":{"y":{"field":"m","type":"quantitative","title":null}}},
{"mark":{"type":"line","clip":true,"interpolate":"linear","color":"#36a093","strokeWidth":2,"strokeDash":[5,4]},"encoding":{"y":{"datum":1}}},
{"transform":[{"filter":"datum.l<2.0545"}],"mark":{"type":"text","align":"left","baseline":"top","dx":3,"dy":2,"color":"#444"},"encoding":{"x":{"datum":2.05445},"y":{"datum":2.93},"text":{"value":"J2"}}},
{"transform":[{"filter":"datum.l<2.0545"}],"mark":{"type":"text","align":"left","baseline":"bottom","dx":4,"dy":-7,"color":"#e2604e","fontSize":10.3},"encoding":{"x":{"datum":2.05445},"y":{"datum":0.38},"text":{"value":"χ²=0.91 %rms=0.77σ"}}}]},
{"data":{"name":"N4"},"width":224,"height":118.5,"encoding":{"x":{"field":"l","type":"quantitative","scale":{"domain":[2.05445,2.06318]},"axis":{"title":"wavelength (μm)"}}},"layer":[
{"mark":{"type":"errorband","interpolate":"step","clip":true,"color":"#666"},"encoding":{"y":{"field":"v","type":"quantitative","scale":{"domain":[0.46,2.65]},"axis":{"values":[1,2],"format":".0f","tickCount":10},"title":null},"yError":{"field":"e"}}},
{"mark":{"type":"line","clip":true},"encoding":{"y":{"field":"v","type":"quantitative","title":null}}},
{"mark":{"type":"line","clip":true,"color":"#f07a6c","strokeWidth":1.2},"encoding":{"y":{"field":"m","type":"quantitative","title":null}}},
{"mark":{"type":"line","clip":true,"interpolate":"linear","color":"#36a093","strokeWidth":2,"strokeDash":[5,4]},"encoding":{"y":{"datum":1}}},
{"transform":[{"filter":"datum.l<2.0545"}],"mark":{"type":"text","align":"left","baseline":"top","dx":3,"dy":2,"color":"#444"},"encoding":{"x":{"datum":2.05445},"y":{"datum":2.65},"text":{"value":"J3"}}},
{"transform":[{"filter":"datum.l<2.0545"}],"mark":{"type":"text","align":"left","baseline":"bottom","dx":4,"dy":-7,"color":"#e2604e","fontSize":10.3},"encoding":{"x":{"datum":2.05445},"y":{"datum":0.46},"text":{"value":"χ²=1.38 %rms=0.55σ"}}}]}
]},
{"title":"T3PHI (deg)","spacing":0,"bounds":"flush","resolve":{"scale":{"x":"independent","y":"independent"}},"vconcat":[
{"data":{"name":"T1"},"width":224,"height":118.5,"encoding":{"x":{"field":"l","type":"quantitative","scale":{"domain":[2.05445,2.06318]},"axis":{"labels":false,"ticks":false,"title":null}}},"layer":[
{"mark":{"type":"errorband","interpolate":"step","clip":true,"color":"#666"},"encoding":{"y":{"field":"v","type":"quantitative","scale":{"domain":[-3.7,33.2]},"axis":{"values":[0,10,20,30],"format":".0f","tickCount":10},"title":null},"yError":{"field":"e"}}},
{"mark":{"type":"line","clip":true},"encoding":{"y":{"field":"v","type":"quantitative","title":null}}},
{"mark":{"type":"line","clip":true,"color":"#f07a6c","strokeWidth":1.2},"encoding":{"y":{"field":"m","type":"quantitative","title":null}}},
{"transform":[{"filter":"datum.l<2.0545"}],"mark":{"type":"text","align":"left","baseline":"top","dx":3,"dy":2,"color":"#444"},"encoding":{"x":{"datum":2.05445},"y":{"datum":33.2},"text":{"value":"J2G1A0"}}},
{"transform":[{"filter":"datum.l<2.0545"}],"mark":{"type":"text","align":"left","baseline":"bottom","dx":4,"dy":-7,"color":"#e2604e","fontSize":10.3},"encoding":{"x":{"datum":2.05445},"y":{"datum":-3.7},"text":{"value":"χ²=1.90 %rms=1.5σ"}}}]},
{"data":{"name":"T2"},"width":224,"height":118.5,"encoding":{"x":{"field":"l","type":"quantitative","scale":{"domain":[2.05445,2.06318]},"axis":{"labels":false,"ticks":false,"title":null}}},"layer":[
{"mark":{"type":"errorband","interpolate":"step","clip":true,"color":"#666"},"encoding":{"y":{"field":"v","type":"quantitative","scale":{"domain":[-6.4,48]},"axis":{"values":[0,20,40],"format":".0f","tickCount":10},"title":null},"yError":{"field":"e"}}},
{"mark":{"type":"line","clip":true},"encoding":{"y":{"field":"v","type":"quantitative","title":null}}},
{"mark":{"type":"line","clip":true,"color":"#f07a6c","strokeWidth":1.2},"encoding":{"y":{"field":"m","type":"quantitative","title":null}}},
{"transform":[{"filter":"datum.l<2.0545"}],"mark":{"type":"text","align":"left","baseline":"top","dx":3,"dy":2,"color":"#444"},"encoding":{"x":{"datum":2.05445},"y":{"datum":48},"text":{"value":"J3G1A0"}}},
{"transform":[{"filter":"datum.l<2.0545"}],"mark":{"type":"text","align":"left","baseline":"bottom","dx":4,"dy":-7,"color":"#e2604e","fontSize":10.3},"encoding":{"x":{"datum":2.05445},"y":{"datum":-6.4},"text":{"value":"χ²=3.51 %rms=2.2σ"}}}]},
{"data":{"name":"T3"},"width":224,"height":118.5,"encoding":{"x":{"field":"l","type":"quantitative","scale":{"domain":[2.05445,2.06318]},"axis":{"labels":false,"ticks":false,"title":null}}},"layer":[
{"mark":{"type":"errorband","interpolate":"step","clip":true,"color":"#666"},"encoding":{"y":{"field":"v","type":"quantitative","scale":{"domain":[-3.2,56]},"axis":{"values":[0,20,40],"format":".0f","tickCount":10},"title":null},"yError":{"field":"e"}}},
{"mark":{"type":"line","clip":true},"encoding":{"y":{"field":"v","type":"quantitative","title":null}}},
{"mark":{"type":"line","clip":true,"color":"#f07a6c","strokeWidth":1.2},"encoding":{"y":{"field":"m","type":"quantitative","title":null}}},
{"transform":[{"filter":"datum.l<2.0545"}],"mark":{"type":"text","align":"left","baseline":"top","dx":3,"dy":2,"color":"#444"},"encoding":{"x":{"datum":2.05445},"y":{"datum":56},"text":{"value":"J3J2A0"}}},
{"transform":[{"filter":"datum.l<2.0545"}],"mark":{"type":"text","align":"left","baseline":"bottom","dx":4,"dy":-7,"color":"#e2604e","fontSize":10.3},"encoding":{"x":{"datum":2.05445},"y":{"datum":-3.2},"text":{"value":"χ²=3.96 %rms=2.0σ"}}}]},
{"data":{"name":"T4"},"width":224,"height":118.5,"encoding":{"x":{"field":"l","type":"quantitative","scale":{"domain":[2.05445,2.06318]},"axis":{"title":"wavelength (μm)"}}},"layer":[
{"mark":{"type":"errorband","interpolate":"step","clip":true,"color":"#666"},"encoding":{"y":{"field":"v","type":"quantitative","scale":{"domain":[-2,37.7]},"axis":{"values":[0,10,20,30],"format":".0f","tickCount":10},"title":null},"yError":{"field":"e"}}},
{"mark":{"type":"line","clip":true},"encoding":{"y":{"field":"v","type":"quantitative","title":null}}},
{"mark":{"type":"line","clip":true,"color":"#f07a6c","strokeWidth":1.2},"encoding":{"y":{"field":"m","type":"quantitative","title":null}}},
{"transform":[{"filter":"datum.l<2.0545"}],"mark":{"type":"text","align":"left","baseline":"top","dx":3,"dy":2,"color":"#444"},"encoding":{"x":{"datum":2.05445},"y":{"datum":37.7},"text":{"value":"J3J2G1"}}},
{"transform":[{"filter":"datum.l<2.0545"}],"mark":{"type":"text","align":"left","baseline":"bottom","dx":4,"dy":-7,"color":"#e2604e","fontSize":10.3},"encoding":{"x":{"datum":2.05445},"y":{"datum":-2},"text":{"value":"χ²=1.87 %rms=1.3σ"}}}]}
]},
{"title":"DPHI (deg)","spacing":0,"bounds":"flush","resolve":{"scale":{"x":"independent","y":"independent"}},"vconcat":[
{"data":{"name":"D1"},"width":224,"height":79,"encoding":{"x":{"field":"l","type":"quantitative","scale":{"domain":[2.05445,2.06318]},"axis":{"labels":false,"ticks":false,"title":null}}},"layer":[
{"mark":{"type":"errorband","interpolate":"step","clip":true,"color":"#666"},"encoding":{"y":{"field":"v","type":"quantitative","scale":{"domain":[-12.4,12.5]},"axis":{"values":[-10,0,10],"format":".0f","tickCount":10},"title":null},"yError":{"field":"e"}}},
{"mark":{"type":"line","clip":true},"encoding":{"y":{"field":"v","type":"quantitative","title":null}}},
{"mark":{"type":"line","clip":true,"color":"#f07a6c","strokeWidth":1.2},"encoding":{"y":{"field":"m","type":"quantitative","title":null}}},
{"mark":{"type":"line","clip":true,"interpolate":"linear","color":"#36a093","strokeWidth":2,"strokeDash":[5,4]},"encoding":{"y":{"datum":0}}},
{"transform":[{"filter":"datum.l<2.0545"}],"mark":{"type":"text","align":"left","baseline":"top","dx":3,"dy":2,"color":"#444"},"encoding":{"x":{"datum":2.05445},"y":{"datum":12.5},"text":{"value":"G1A0"}}},
{"transform":[{"filter":"datum.l<2.0545"}],"mark":{"type":"text","align":"left","baseline":"bottom","dx":4,"dy":-6,"color":"#e2604e","fontSize":10.3},"encoding":{"x":{"datum":2.05445},"y":{"datum":-12.4},"text":{"value":"χ²=0.82 %rms=0.89σ"}}}]},
{"data":{"name":"D2"},"width":224,"height":79,"encoding":{"x":{"field":"l","type":"quantitative","scale":{"domain":[2.05445,2.06318]},"axis":{"labels":false,"ticks":false,"title":null}}},"layer":[
{"mark":{"type":"errorband","interpolate":"step","clip":true,"color":"#666"},"encoding":{"y":{"field":"v","type":"quantitative","scale":{"domain":[-14.6,14.1]},"axis":{"values":[-10,0,10],"format":".0f","tickCount":10},"title":null},"yError":{"field":"e"}}},
{"mark":{"type":"line","clip":true},"encoding":{"y":{"field":"v","type":"quantitative","title":null}}},
{"mark":{"type":"line","clip":true,"color":"#f07a6c","strokeWidth":1.2},"encoding":{"y":{"field":"m","type":"quantitative","title":null}}},
{"mark":{"type":"line","clip":true,"interpolate":"linear","color":"#36a093","strokeWidth":2,"strokeDash":[5,4]},"encoding":{"y":{"datum":0}}},
{"transform":[{"filter":"datum.l<2.0545"}],"mark":{"type":"text","align":"left","baseline":"top","dx":3,"dy":2,"color":"#444"},"encoding":{"x":{"datum":2.05445},"y":{"datum":14.1},"text":{"value":"J2A0"}}},
{"transform":[{"filter":"datum.l<2.0545"}],"mark":{"type":"text","align":"left","baseline":"bottom","dx":4,"dy":-6,"color":"#e2604e","fontSize":10.3},"encoding":{"x":{"datum":2.05445},"y":{"datum":-14.6},"text":{"value":"χ²=1.21 %rms=1.1σ"}}}]},
{"data":{"name":"D3"},"width":224,"height":79,"encoding":{"x":{"field":"l","type":"quantitative","scale":{"domain":[2.05445,2.06318]},"axis":{"labels":false,"ticks":false,"title":null}}},"layer":[
{"mark":{"type":"errorband","interpolate":"step","clip":true,"color":"#666"},"encoding":{"y":{"field":"v","type":"quantitative","scale":{"domain":[-11.7,11.7]},"axis":{"values":[-10,0,10],"format":".0f","tickCount":10},"title":null},"yError":{"field":"e"}}},
{"mark":{"type":"line","clip":true},"encoding":{"y":{"field":"v","type":"quantitative","title":null}}},
{"mark":{"type":"line","clip":true,"color":"#f07a6c","strokeWidth":1.2},"encoding":{"y":{"field":"m","type":"quantitative","title":null}}},
{"mark":{"type":"line","clip":true,"interpolate":"linear","color":"#36a093","strokeWidth":2,"strokeDash":[5,4]},"encoding":{"y":{"datum":0}}},
{"transform":[{"filter":"datum.l<2.0545"}],"mark":{"type":"text","align":"left","baseline":"top","dx":3,"dy":2,"color":"#444"},"encoding":{"x":{"datum":2.05445},"y":{"datum":11.7},"text":{"value":"J2G1"}}},
{"transform":[{"filter":"datum.l<2.0545"}],"mark":{"type":"text","align":"left","baseline":"bottom","dx":4,"dy":-6,"color":"#e2604e","fontSize":10.3},"encoding":{"x":{"datum":2.05445},"y":{"datum":-11.7},"text":{"value":"χ²=0.77 %rms=0.74σ"}}}]},
{"data":{"name":"D4"},"width":224,"height":79,"encoding":{"x":{"field":"l","type":"quantitative","scale":{"domain":[2.05445,2.06318]},"axis":{"labels":false,"ticks":false,"title":null}}},"layer":[
{"mark":{"type":"errorband","interpolate":"step","clip":true,"color":"#666"},"encoding":{"y":{"field":"v","type":"quantitative","scale":{"domain":[-17.6,15.6]},"axis":{"values":[-10,0,10],"format":".0f","tickCount":10},"title":null},"yError":{"field":"e"}}},
{"mark":{"type":"line","clip":true},"encoding":{"y":{"field":"v","type":"quantitative","title":null}}},
{"mark":{"type":"line","clip":true,"color":"#f07a6c","strokeWidth":1.2},"encoding":{"y":{"field":"m","type":"quantitative","title":null}}},
{"mark":{"type":"line","clip":true,"interpolate":"linear","color":"#36a093","strokeWidth":2,"strokeDash":[5,4]},"encoding":{"y":{"datum":0}}},
{"transform":[{"filter":"datum.l<2.0545"}],"mark":{"type":"text","align":"left","baseline":"top","dx":3,"dy":2,"color":"#444"},"encoding":{"x":{"datum":2.05445},"y":{"datum":15.6},"text":{"value":"J3A0"}}},
{"transform":[{"filter":"datum.l<2.0545"}],"mark":{"type":"text","align":"left","baseline":"bottom","dx":4,"dy":-6,"color":"#e2604e","fontSize":10.3},"encoding":{"x":{"datum":2.05445},"y":{"datum":-17.6},"text":{"value":"χ²=1.44 %rms=1.3σ"}}}]},
{"data":{"name":"D5"},"width":224,"height":79,"encoding":{"x":{"field":"l","type":"quantitative","scale":{"domain":[2.05445,2.06318]},"axis":{"labels":false,"ticks":false,"title":null}}},"layer":[
{"mark":{"type":"errorband","interpolate":"step","clip":true,"color":"#666"},"encoding":{"y":{"field":"v","type":"quantitative","scale":{"domain":[-10.2,13.8]},"axis":{"values":[-10,0,10],"format":".0f","tickCount":10},"title":null},"yError":{"field":"e"}}},
{"mark":{"type":"line","clip":true},"encoding":{"y":{"field":"v","type":"quantitative","title":null}}},
{"mark":{"type":"line","clip":true,"color":"#f07a6c","strokeWidth":1.2},"encoding":{"y":{"field":"m","type":"quantitative","title":null}}},
{"mark":{"type":"line","clip":true,"interpolate":"linear","color":"#36a093","strokeWidth":2,"strokeDash":[5,4]},"encoding":{"y":{"datum":0}}},
{"transform":[{"filter":"datum.l<2.0545"}],"mark":{"type":"text","align":"left","baseline":"top","dx":3,"dy":2,"color":"#444"},"encoding":{"x":{"datum":2.05445},"y":{"datum":13.8},"text":{"value":"J3G1"}}},
{"transform":[{"filter":"datum.l<2.0545"}],"mark":{"type":"text","align":"left","baseline":"bottom","dx":4,"dy":-6,"color":"#e2604e","fontSize":10.3},"encoding":{"x":{"datum":2.05445},"y":{"datum":-10.2},"text":{"value":"χ²=0.88 %rms=0.79σ"}}}]},
{"data":{"name":"D6"},"width":224,"height":79,"encoding":{"x":{"field":"l","type":"quantitative","scale":{"domain":[2.05445,2.06318]},"axis":{"title":"wavelength (μm)"}}},"layer":[
{"mark":{"type":"errorband","interpolate":"step","clip":true,"color":"#666"},"encoding":{"y":{"field":"v","type":"quantitative","scale":{"domain":[-14,10.2]},"axis":{"values":[-10,0,10],"format":".0f","tickCount":10},"title":null},"yError":{"field":"e"}}},
{"mark":{"type":"line","clip":true},"encoding":{"y":{"field":"v","type":"quantitative","title":null}}},
{"mark":{"type":"line","clip":true,"color":"#f07a6c","strokeWidth":1.2},"encoding":{"y":{"field":"m","type":"quantitative","title":null}}},
{"mark":{"type":"line","clip":true,"interpolate":"linear","color":"#36a093","strokeWidth":2,"strokeDash":[5,4]},"encoding":{"y":{"datum":0}}},
{"transform":[{"filter":"datum.l<2.0545"}],"mark":{"type":"text","align":"left","baseline":"top","dx":3,"dy":2,"color":"#444"},"encoding":{"x":{"datum":2.05445},"y":{"datum":10.2},"text":{"value":"J3J2"}}},
{"transform":[{"filter":"datum.l<2.0545"}],"mark":{"type":"text","align":"left","baseline":"bottom","dx":4,"dy":-6,"color":"#e2604e","fontSize":10.3},"encoding":{"x":{"datum":2.05445},"y":{"datum":-14},"text":{"value":"χ²=0.62 %rms=0.82σ"}}}]}
]},
{"title":"|V|","spacing":0,"bounds":"flush","resolve":{"scale":{"x":"independent","y":"independent"}},"vconcat":[
{"data":{"name":"V1"},"width":224,"height":79,"encoding":{"x":{"field":"l","type":"quantitative","scale":{"domain":[2.05445,2.06318]},"axis":{"labels":false,"ticks":false,"title":null}}},"layer":[
{"mark":{"type":"errorband","interpolate":"step","clip":true,"color":"#666"},"encoding":{"y":{"field":"v","type":"quantitative","scale":{"domain":[0.756,1.187]},"axis":{"values":[0.8,1],"format":".1f","tickCount":10},"title":null},"yError":{"field":"e"}}},
{"mark":{"type":"line","clip":true},"encoding":{"y":{"field":"v","type":"quantitative","title":null}}},
{"mark":{"type":"line","clip":true,"color":"#f07a6c","strokeWidth":1.2},"encoding":{"y":{"field":"m","type":"quantitative","title":null}}},
{"transform":[{"filter":"datum.l<2.0545"}],"mark":{"type":"text","align":"left","baseline":"top","dx":3,"dy":2,"color":"#444"},"encoding":{"x":{"datum":2.05445},"y":{"datum":1.187},"text":{"value":"G1A0"}}},
{"transform":[{"filter":"datum.l<2.0545"}],"mark":{"type":"text","align":"left","baseline":"bottom","dx":4,"dy":-6,"color":"#e2604e","fontSize":10.3},"encoding":{"x":{"datum":2.05445},"y":{"datum":0.756},"text":{"value":"χ²=1.95 %rms=0.92σ"}}}]},
{"data":{"name":"V2"},"width":224,"height":79,"encoding":{"x":{"field":"l","type":"quantitative","scale":{"domain":[2.05445,2.06318]},"axis":{"labels":false,"ticks":false,"title":null}}},"layer":[
{"mark":{"type":"errorband","interpolate":"step","clip":true,"color":"#666"},"encoding":{"y":{"field":"v","type":"quantitative","scale":{"domain":[0.42,0.914]},"axis":{"values":[0.5,0.75],"format":".2f","tickCount":10},"title":null},"yError":{"field":"e"}}},
{"mark":{"type":"line","clip":true},"encoding":{"y":{"field":"v","type":"quantitative","title":null}}},
{"mark":{"type":"line","clip":true,"color":"#f07a6c","strokeWidth":1.2},"encoding":{"y":{"field":"m","type":"quantitative","title":null}}},
{"transform":[{"filter":"datum.l<2.0545"}],"mark":{"type":"text","align":"left","baseline":"top","dx":3,"dy":2,"color":"#444"},"encoding":{"x":{"datum":2.05445},"y":{"datum":0.914},"text":{"value":"J2A0"}}},
{"transform":[{"filter":"datum.l<2.0545"}],"mark":{"type":"text","align":"left","baseline":"bottom","dx":4,"dy":-6,"color":"#e2604e","fontSize":10.3},"encoding":{"x":{"datum":2.05445},"y":{"datum":0.42},"text":{"value":"χ²=2.42 %rms=1.9σ"}}}]},
{"data":{"name":"V3"},"width":224,"height":79,"encoding":{"x":{"field":"l","type":"quantitative","scale":{"domain":[2.05445,2.06318]},"axis":{"labels":false,"ticks":false,"title":null}}},"layer":[
{"mark":{"type":"errorband","interpolate":"step","clip":true,"color":"#666"},"encoding":{"y":{"field":"v","type":"quantitative","scale":{"domain":[0.659,1.067]},"axis":{"values":[0.8,1],"format":".1f","tickCount":10},"title":null},"yError":{"field":"e"}}},
{"mark":{"type":"line","clip":true},"encoding":{"y":{"field":"v","type":"quantitative","title":null}}},
{"mark":{"type":"line","clip":true,"color":"#f07a6c","strokeWidth":1.2},"encoding":{"y":{"field":"m","type":"quantitative","title":null}}},
{"transform":[{"filter":"datum.l<2.0545"}],"mark":{"type":"text","align":"left","baseline":"top","dx":3,"dy":2,"color":"#444"},"encoding":{"x":{"datum":2.05445},"y":{"datum":1.067},"text":{"value":"J2G1"}}},
{"transform":[{"filter":"datum.l<2.0545"}],"mark":{"type":"text","align":"left","baseline":"bottom","dx":4,"dy":-6,"color":"#e2604e","fontSize":10.3},"encoding":{"x":{"datum":2.05445},"y":{"datum":0.659},"text":{"value":"χ²=0.92 %rms=1.0σ"}}}]},
{"data":{"name":"V4"},"width":224,"height":79,"encoding":{"x":{"field":"l","type":"quantitative","scale":{"domain":[2.05445,2.06318]},"axis":{"labels":false,"ticks":false,"title":null}}},"layer":[
{"mark":{"type":"errorband","interpolate":"step","clip":true,"color":"#666"},"encoding":{"y":{"field":"v","type":"quantitative","scale":{"domain":[0.514,0.927]},"axis":{"values":[0.6,0.8],"format":".1f","tickCount":10},"title":null},"yError":{"field":"e"}}},
{"mark":{"type":"line","clip":true},"encoding":{"y":{"field":"v","type":"quantitative","title":null}}},
{"mark":{"type":"line","clip":true,"color":"#f07a6c","strokeWidth":1.2},"encoding":{"y":{"field":"m","type":"quantitative","title":null}}},
{"transform":[{"filter":"datum.l<2.0545"}],"mark":{"type":"text","align":"left","baseline":"top","dx":3,"dy":2,"color":"#444"},"encoding":{"x":{"datum":2.05445},"y":{"datum":0.927},"text":{"value":"J3A0"}}},
{"transform":[{"filter":"datum.l<2.0545"}],"mark":{"type":"text","align":"left","baseline":"bottom","dx":4,"dy":-6,"color":"#e2604e","fontSize":10.3},"encoding":{"x":{"datum":2.05445},"y":{"datum":0.514},"text":{"value":"χ²=1.88 %rms=1.2σ"}}}]},
{"data":{"name":"V5"},"width":224,"height":79,"encoding":{"x":{"field":"l","type":"quantitative","scale":{"domain":[2.05445,2.06318]},"axis":{"labels":false,"ticks":false,"title":null}}},"layer":[
{"mark":{"type":"errorband","interpolate":"step","clip":true,"color":"#666"},"encoding":{"y":{"field":"v","type":"quantitative","scale":{"domain":[0.43,0.933]},"axis":{"values":[0.5,0.75],"format":".2f","tickCount":10},"title":null},"yError":{"field":"e"}}},
{"mark":{"type":"line","clip":true},"encoding":{"y":{"field":"v","type":"quantitative","title":null}}},
{"mark":{"type":"line","clip":true,"color":"#f07a6c","strokeWidth":1.2},"encoding":{"y":{"field":"m","type":"quantitative","title":null}}},
{"transform":[{"filter":"datum.l<2.0545"}],"mark":{"type":"text","align":"left","baseline":"top","dx":3,"dy":2,"color":"#444"},"encoding":{"x":{"datum":2.05445},"y":{"datum":0.933},"text":{"value":"J3G1"}}},
{"transform":[{"filter":"datum.l<2.0545"}],"mark":{"type":"text","align":"left","baseline":"bottom","dx":4,"dy":-6,"color":"#e2604e","fontSize":10.3},"encoding":{"x":{"datum":2.05445},"y":{"datum":0.43},"text":{"value":"χ²=1.99 %rms=1.9σ"}}}]},
{"data":{"name":"V6"},"width":224,"height":79,"encoding":{"x":{"field":"l","type":"quantitative","scale":{"domain":[2.05445,2.06318]},"axis":{"title":"wavelength (μm)"}}},"layer":[
{"mark":{"type":"errorband","interpolate":"step","clip":true,"color":"#666"},"encoding":{"y":{"field":"v","type":"quantitative","scale":{"domain":[0.71,1.107]},"axis":{"values":[0.8,1],"format":".1f","tickCount":10},"title":null},"yError":{"field":"e"}}},
{"mark":{"type":"line","clip":true},"encoding":{"y":{"field":"v","type":"quantitative","title":null}}},
{"mark":{"type":"line","clip":true,"color":"#f07a6c","strokeWidth":1.2},"encoding":{"y":{"field":"m","type":"quantitative","title":null}}},
{"transform":[{"filter":"datum.l<2.0545"}],"mark":{"type":"text","align":"left","baseline":"top","dx":3,"dy":2,"color":"#444"},"encoding":{"x":{"datum":2.05445},"y":{"datum":1.107},"text":{"value":"J3J2"}}},
{"transform":[{"filter":"datum.l<2.0545"}],"mark":{"type":"text","align":"left","baseline":"bottom","dx":4,"dy":-6,"color":"#e2604e","fontSize":10.3},"encoding":{"x":{"datum":2.05445},"y":{"datum":0.71},"text":{"value":"χ²=1.36 %rms=1.0σ"}}}]}
]}
]
}
